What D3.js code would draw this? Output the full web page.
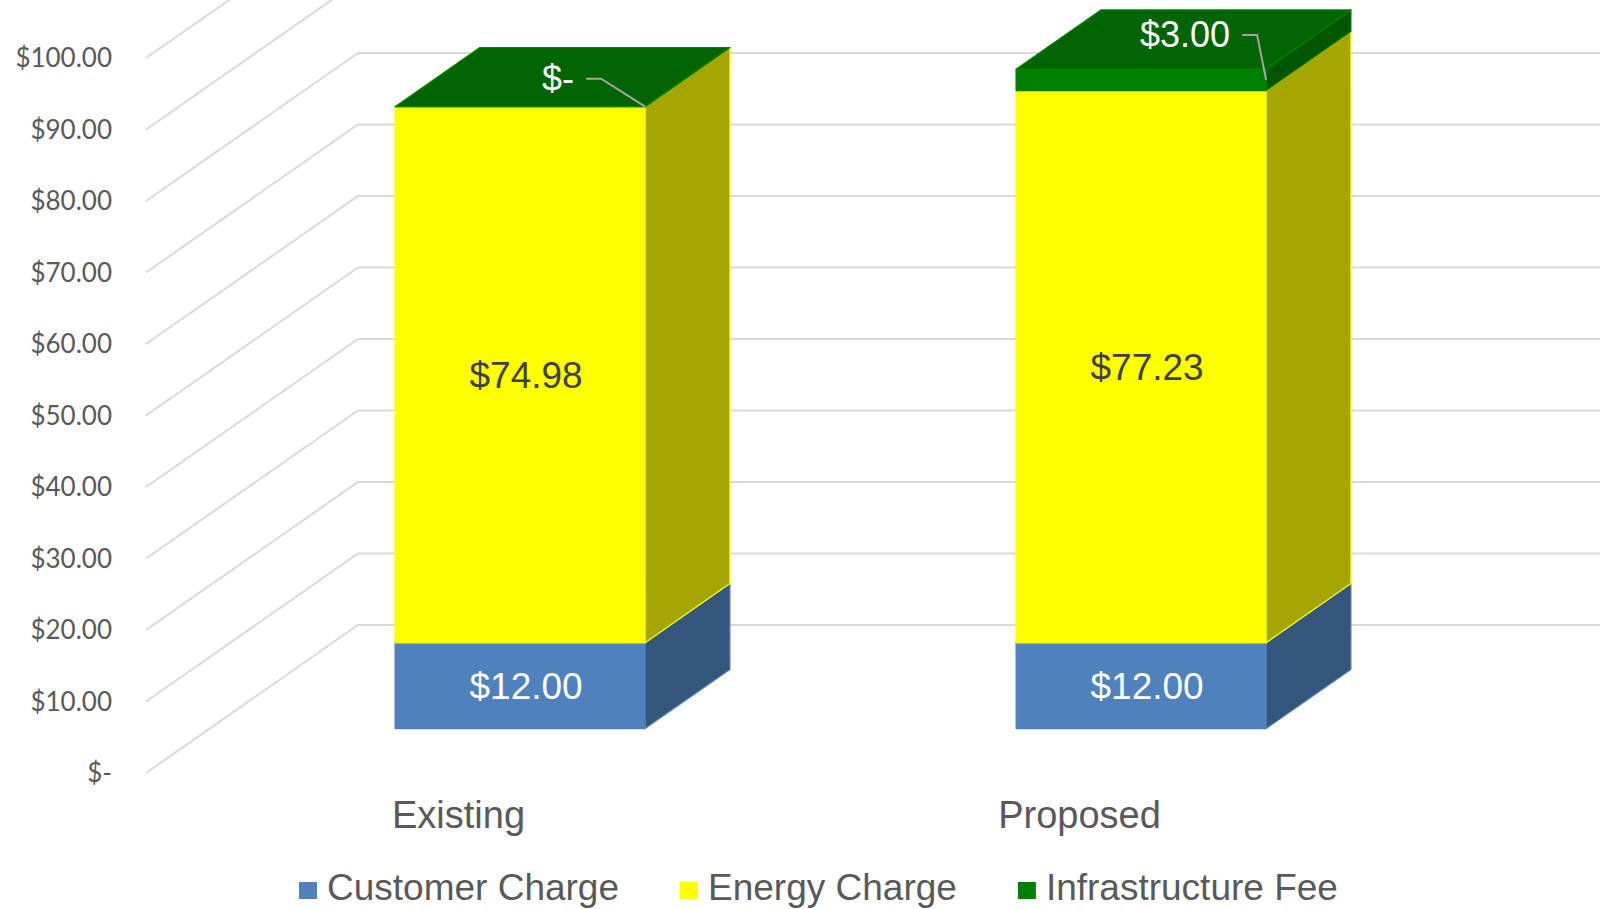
<!DOCTYPE html>
<html>
<head>
<meta charset="utf-8">
<script src="https://cdn.jsdelivr.net/npm/d3@7"></script>
<style>
    body { margin: 0; background: #fff; }
    svg { display: block; }
</style>
</head>
<body>
<svg id="chart" width="1604" height="909"></svg>
<script>
/*
Data
*/
var categories = ["Existing", "Proposed"];
var seriesNames = ["Customer Charge", "Energy Charge", "Infrastructure Fee"];
var customerCharge = [12.00, 12.00];
var energyCharge = [74.98, 77.23];
var infrastructureFee = [0, 3.00];
var yTicks = [0, 10, 20, 30, 40, 50, 60, 70, 80, 90, 100];

/* colors per series: front face, side face, top face, label text */
var frontColors = ["#4F81BD", "#FFFF00", "#008000"];
var sideColors = ["#34567C", "#A6A600", "#005500"];
var topColors = ["#6C97CF", "#D4D400", "#006400"];
var labelColors = ["#FFFFFF", "#404040", "#FFFFFF"];

/* 3d projection: depth 0 = front of floor, depth 1 = back wall */
var DX = 212, DY = -148;
var barDepth = [0.3, 0.7];
var barShare = 0.4026;   // bar width as part of the band

var svg = d3.select("#chart");

var x = d3.scaleBand().domain(categories).range([146, 1388]).padding(0);
var y = d3.scaleLinear().domain([0, 100]).range([773, 58]);

function project(px, v, d) {
    return [px + DX * d, y(v) + DY * d];
}

function money(v) {
    return v === 0 ? "$-" : "$" + d3.format(",.2f")(v);
}

/* Walls gridlines (side wall diagonal + back wall horizontal) */
var grid = svg.append("g");
yTicks.forEach(function (t) {
    var a = project(x.range()[0], t, 0),
        b = project(x.range()[0], t, 1),
        c = project(x.range()[1], t, 1);
    grid.append("polyline")
        .attr("points", [a, b, c].map(function (p) { return p.join(","); }).join(" "))
        .attr("fill", "none")
        .attr("stroke", "#D9D9D9")
        .attr("stroke-width", 2);
});

/* Y axis labels */
svg.append("g").selectAll("text")
    .data(yTicks)
    .enter().append("text")
    .attr("x", 112)
    .attr("y", function (d) { return y(d); })
    .attr("dy", "0.35em")
    .attr("text-anchor", "end")
    .attr("font-family", "Lato, 'Liberation Sans', sans-serif")
    .attr("font-size", 26)
    .attr("fill", "#595959")
    .text(money);

/* Stacked 3d bars */
var series = [customerCharge, energyCharge, infrastructureFee];
var hw = x.bandwidth() * barShare / 2;

function poly(g, pts, fill, stroke) {
    g.append("polygon")
        .attr("points", pts.map(function (p) { return p.join(","); }).join(" "))
        .attr("fill", fill)
        .attr("stroke", stroke)
        .attr("stroke-width", 1.2)
        .attr("stroke-linejoin", "round");
}

var labels = [];
categories.forEach(function (cat, ci) {
    var cx = x(cat) + x.bandwidth() / 2;
    var g = svg.append("g");
    var base = 0;
    series.forEach(function (s, si) {
        var v0 = base, v1 = base + s[ci];
        var d0 = barDepth[0], d1 = barDepth[1];
        poly(g, [project(cx - hw, v0, d0), project(cx + hw, v0, d0), project(cx + hw, v1, d0), project(cx - hw, v1, d0)],
            frontColors[si], frontColors[si]);
        poly(g, [project(cx + hw, v0, d0), project(cx + hw, v0, d1), project(cx + hw, v1, d1), project(cx + hw, v1, d0)],
            sideColors[si], frontColors[si]);
        poly(g, [project(cx - hw, v1, d0), project(cx + hw, v1, d0), project(cx + hw, v1, d1), project(cx - hw, v1, d1)],
            topColors[si], frontColors[si]);
        labels.push({ ci: ci, si: si, cx: cx, v0: v0, v1: v1, value: s[ci] });
        base = v1;
    });
});

/* Data labels - green ones were dragged out with leader lines */
var leaderOffsets = [[-44, -28], [-9, -45]];
var lg = svg.append("g")
    .attr("font-family", "'Liberation Sans', Arial, sans-serif")
    .attr("font-size", 37);
labels.forEach(function (l) {
    if (l.si < 2) {
        var p = project(l.cx, (l.v0 + l.v1) / 2, barDepth[0]);
        lg.append("text")
            .attr("x", p[0] + 6).attr("y", p[1])
            .attr("dy", "0.35em")
            .attr("text-anchor", "middle")
            .attr("fill", labelColors[l.si])
            .text(money(l.value));
    } else {
        var anchor = project(l.cx + hw, (l.v0 + l.v1) / 2, barDepth[0]);
        var off = leaderOffsets[l.ci];
        var elbow = [anchor[0] + off[0], anchor[1] + off[1]];
        var start = [elbow[0] - 15, elbow[1]];
        lg.append("polyline")
            .attr("points", [start, elbow, anchor].map(function (p) { return p.join(","); }).join(" "))
            .attr("fill", "none")
            .attr("stroke", "#A6A6A6")
            .attr("stroke-width", 2);
        lg.append("text")
            .attr("x", start[0] - 12).attr("y", elbow[1])
            .attr("dy", "0.35em")
            .attr("text-anchor", "end")
            .attr("font-size", 36)
            .attr("fill", labelColors[l.si])
            .text(money(l.value));
    }
});

/* Category labels, at the front of the floor */
svg.append("g").selectAll("text")
    .data(categories)
    .enter().append("text")
    .attr("x", function (d) { return x(d) + x.bandwidth() / 2 + 2; })
    .attr("y", 828)
    .attr("text-anchor", "middle")
    .attr("font-family", "'Liberation Sans', Arial, sans-serif")
    .attr("font-size", 38)
    .attr("fill", "#595959")
    .text(function (d) { return d; });

/* Legend */
var legend = svg.append("g")
    .attr("font-family", "'Liberation Sans', Arial, sans-serif")
    .attr("font-size", 37)
    .attr("fill", "#595959");
var lx = 299;
seriesNames.forEach(function (name, i) {
    legend.append("rect")
        .attr("x", lx).attr("y", 882)
        .attr("width", 18).attr("height", 17)
        .attr("fill", frontColors[i]);
    var t = legend.append("text")
        .attr("x", lx + 28).attr("y", 900)
        .text(name);
    lx += 28 + t.node().getComputedTextLength() + 61;
});
</script>
</body>
</html>
